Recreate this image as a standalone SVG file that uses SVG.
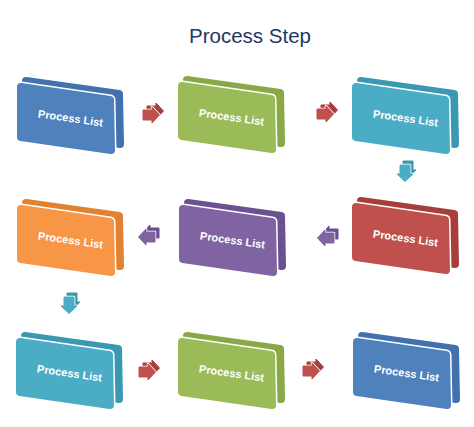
<svg xmlns="http://www.w3.org/2000/svg" xmlns:xlink="http://www.w3.org/1999/xlink" width="474" height="427" viewBox="0 0 474 427">
<style>
.t{font-family:"Liberation Sans",Arial,sans-serif;font-weight:bold;font-size:11px;fill:#fff;text-anchor:middle}
.title{font-family:"Liberation Sans",Arial,sans-serif;font-size:20.5px;fill:#1F3864;text-anchor:middle}
.f{stroke-width:8}
.w{fill:#fff;stroke:#fff;stroke-width:11}
.aw{fill:#fff;stroke:#fff;stroke-width:2.5}
.af{stroke-width:1}
.blue{fill:#4F81BD;stroke:#4F81BD}.blue2{fill:#4271AE;stroke:#4271AE}
.green{fill:#9BBB59;stroke:#9BBB59}.green2{fill:#89A947;stroke:#89A947}
.teal{fill:#4BACC6;stroke:#4BACC6}.teal2{fill:#3B98B2;stroke:#3B98B2}
.orange{fill:#F79646;stroke:#F79646}.orange2{fill:#E0822F;stroke:#E0822F}
.purple{fill:#8064A2;stroke:#8064A2}.purple2{fill:#6B5190;stroke:#6B5190}
.red{fill:#C0504D;stroke:#C0504D}.red2{fill:#A63F3C;stroke:#A63F3C}
</style>
<defs>
<path id="fr" d="M4,4 L93,17 L94,67 L4,54 Z" stroke-linejoin="round"/>
<path id="bk" d="M9,-2 L102,11 L103,61 L9,46 Z" stroke-linejoin="round"/>
<path id="ar" d="M-8,-5 L1,-5 L1,-8 L8.5,0 L1,8 L1,5 L-8,5 Z" stroke-linejoin="round"/>
</defs>
<rect width="474" height="427" fill="#fff"/>
<text class="title" x="250" y="43">Process Step</text>

<g id="n1" transform="translate(17,83)">
<use xlink:href="#bk" class="blue2 f"/><use xlink:href="#fr" class="w"/><use xlink:href="#fr" class="blue f"/>
<text class="t" transform="translate(53,39) rotate(8)">Process List</text>
</g>
<g id="n2" transform="translate(178,82)">
<use xlink:href="#bk" class="green2 f"/><use xlink:href="#fr" class="w"/><use xlink:href="#fr" class="green f"/>
<text class="t" transform="translate(53,39) rotate(8)">Process List</text>
</g>
<g id="n3" transform="translate(352,83)">
<use xlink:href="#bk" class="teal2 f"/><use xlink:href="#fr" class="w"/><use xlink:href="#fr" class="teal f"/>
<text class="t" transform="translate(53,39) rotate(8)">Process List</text>
</g>
<g id="n4" transform="translate(352,203)">
<use xlink:href="#bk" class="red2 f"/><use xlink:href="#fr" class="w"/><use xlink:href="#fr" class="red f"/>
<text class="t" transform="translate(53,39) rotate(8)">Process List</text>
</g>
<g id="n5" transform="translate(179,205)">
<use xlink:href="#bk" class="purple2 f"/><use xlink:href="#fr" class="w"/><use xlink:href="#fr" class="purple f"/>
<text class="t" transform="translate(53,39) rotate(8)">Process List</text>
</g>
<g id="n6" transform="translate(17,205)">
<use xlink:href="#bk" class="orange2 f"/><use xlink:href="#fr" class="w"/><use xlink:href="#fr" class="orange f"/>
<text class="t" transform="translate(53,39) rotate(8)">Process List</text>
</g>
<g id="n7" transform="translate(16,338)">
<use xlink:href="#bk" class="teal2 f"/><use xlink:href="#fr" class="w"/><use xlink:href="#fr" class="teal f"/>
<text class="t" transform="translate(53,39) rotate(8)">Process List</text>
</g>
<g id="n8" transform="translate(178,338)">
<use xlink:href="#bk" class="green2 f"/><use xlink:href="#fr" class="w"/><use xlink:href="#fr" class="green f"/>
<text class="t" transform="translate(53,39) rotate(8)">Process List</text>
</g>
<g id="n9" transform="translate(353,338)">
<use xlink:href="#bk" class="blue2 f"/><use xlink:href="#fr" class="w"/><use xlink:href="#fr" class="blue f"/>
<text class="t" transform="translate(53,39) rotate(8)">Process List</text>
</g>

<g id="connectors">
<g transform="translate(151,115)"><use xlink:href="#ar" class="red2 af" transform="translate(4,-4)"/><use xlink:href="#ar" class="aw"/><use xlink:href="#ar" class="red af"/></g>
<g transform="translate(325,114)"><use xlink:href="#ar" class="red2 af" transform="translate(4,-4)"/><use xlink:href="#ar" class="aw"/><use xlink:href="#ar" class="red af"/></g>
<g transform="translate(405,173)"><use xlink:href="#ar" class="teal2 af" transform="translate(3,-4) rotate(90)"/><use xlink:href="#ar" class="aw" transform="rotate(90)"/><use xlink:href="#ar" class="teal af" transform="rotate(90)"/></g>
<g transform="translate(326,238)"><use xlink:href="#ar" class="purple2 af" transform="translate(4,-4) rotate(180)"/><use xlink:href="#ar" class="aw" transform="rotate(180)"/><use xlink:href="#ar" class="purple af" transform="rotate(180)"/></g>
<g transform="translate(147,237)"><use xlink:href="#ar" class="purple2 af" transform="translate(4,-4) rotate(180)"/><use xlink:href="#ar" class="aw" transform="rotate(180)"/><use xlink:href="#ar" class="purple af" transform="rotate(180)"/></g>
<g transform="translate(69,305)"><use xlink:href="#ar" class="teal2 af" transform="translate(3,-4) rotate(90)"/><use xlink:href="#ar" class="aw" transform="rotate(90)"/><use xlink:href="#ar" class="teal af" transform="rotate(90)"/></g>
<g transform="translate(147,372)"><use xlink:href="#ar" class="red2 af" transform="translate(4,-4)"/><use xlink:href="#ar" class="aw"/><use xlink:href="#ar" class="red af"/></g>
<g transform="translate(311,371)"><use xlink:href="#ar" class="red2 af" transform="translate(4,-4)"/><use xlink:href="#ar" class="aw"/><use xlink:href="#ar" class="red af"/></g>
</g>
</svg>
